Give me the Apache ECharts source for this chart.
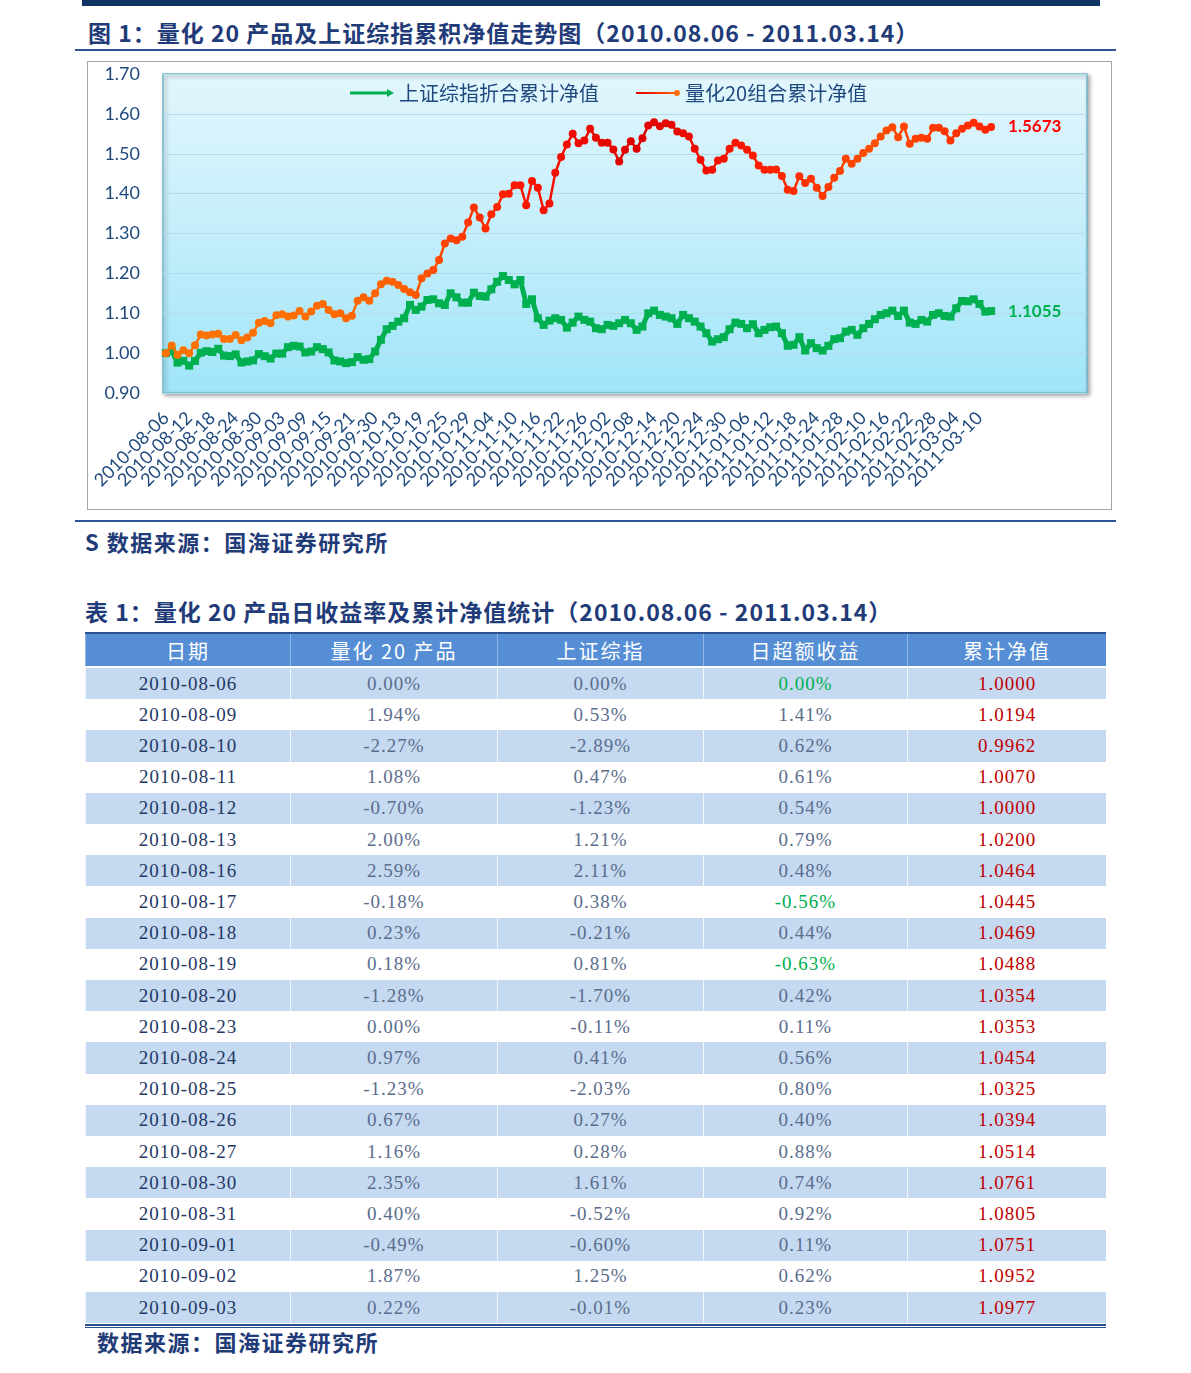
<!DOCTYPE html>
<html><head><meta charset="utf-8">
<script src="https://cdn.jsdelivr.net/npm/echarts@6/dist/echarts.min.js"></script>
<style>
body{margin:0;background:#fff;width:1191px;height:1373px;position:relative;overflow:hidden;font-family:"Noto Sans CJK SC",sans-serif;}
.abs{position:absolute;}
.topbar{left:82px;top:0;width:1018px;height:6px;background:#0f3565;}
.rule{left:75px;width:1041px;height:2px;background:#2f5496;}
.title{color:#1f3b78;font-weight:bold;white-space:nowrap;line-height:1;}
#chart{left:87px;top:61px;width:1025px;height:449px;border:1px solid #a5a5a5;box-sizing:border-box;}
.row{position:absolute;left:85px;width:1021px;display:flex;align-items:center;}
.cell{box-sizing:border-box;text-align:center;font-family:"Liberation Serif",serif;font-size:19px;letter-spacing:1px;color:#5a6d8c;border-left:1px solid rgba(255,255,255,0.75);height:100%;display:flex;align-items:center;justify-content:center;}
.hcell{box-sizing:border-box;text-align:center;font-size:20px;color:#fff;letter-spacing:2px;border-left:1px solid rgba(255,255,255,0.35);height:100%;display:flex;align-items:center;justify-content:center;}
</style></head>
<body>
<div class="abs topbar"></div>
<div class="abs title" id="t1" style="left:88px;top:21px;font-size:23px;letter-spacing:1px;">图 1：量化 20 产品及上证综指累积净值走势图（2010.08.06 - 2011.03.14）</div>
<div class="abs rule" style="top:49px;"></div>
<div class="abs" id="chart"></div>
<div class="abs rule" style="top:520px;"></div>
<div class="abs title" style="left:85px;top:530px;font-size:22px;letter-spacing:1.5px;">S 数据来源：国海证券研究所</div>
<div class="abs title" style="left:85px;top:600px;font-size:23px;letter-spacing:1px;">表 1：量化 20 产品日收益率及累计净值统计（2010.08.06 - 2011.03.14）</div>
<div id="table"></div>
<div class="abs title" style="left:97px;top:1330px;font-size:22px;letter-spacing:1.5px;">数据来源：国海证券研究所</div>
<script>
// ---------- chart data ----------
const dates = [
'2010-08-06','2010-08-09','2010-08-10','2010-08-11','2010-08-12','2010-08-13','2010-08-16','2010-08-17','2010-08-18','2010-08-19','2010-08-20','2010-08-23','2010-08-24','2010-08-25','2010-08-26','2010-08-27','2010-08-30','2010-08-31',
'2010-09-01','2010-09-02','2010-09-03','2010-09-06','2010-09-07','2010-09-08','2010-09-09','2010-09-10','2010-09-13','2010-09-14','2010-09-15','2010-09-16','2010-09-17','2010-09-20','2010-09-21','2010-09-27','2010-09-28','2010-09-29','2010-09-30',
'2010-10-08','2010-10-11','2010-10-12','2010-10-13','2010-10-14','2010-10-15','2010-10-18','2010-10-19','2010-10-20','2010-10-21','2010-10-22','2010-10-25','2010-10-26','2010-10-27','2010-10-28','2010-10-29',
'2010-11-01','2010-11-02','2010-11-03','2010-11-04','2010-11-05','2010-11-08','2010-11-09','2010-11-10','2010-11-11','2010-11-12','2010-11-15','2010-11-16','2010-11-17','2010-11-18','2010-11-19','2010-11-22','2010-11-23','2010-11-24','2010-11-25','2010-11-26','2010-11-29','2010-11-30',
'2010-12-01','2010-12-02','2010-12-03','2010-12-06','2010-12-07','2010-12-08','2010-12-09','2010-12-10','2010-12-13','2010-12-14','2010-12-15','2010-12-16','2010-12-17','2010-12-20','2010-12-21','2010-12-22','2010-12-23','2010-12-24','2010-12-27','2010-12-28','2010-12-29','2010-12-30','2010-12-31',
'2011-01-04','2011-01-05','2011-01-06','2011-01-07','2011-01-10','2011-01-11','2011-01-12','2011-01-13','2011-01-14','2011-01-17','2011-01-18','2011-01-19','2011-01-20','2011-01-21','2011-01-24','2011-01-25','2011-01-26','2011-01-27','2011-01-28','2011-01-31',
'2011-02-01','2011-02-09','2011-02-10','2011-02-11','2011-02-14','2011-02-15','2011-02-16','2011-02-17','2011-02-18','2011-02-21','2011-02-22','2011-02-23','2011-02-24','2011-02-25','2011-02-28',
'2011-03-01','2011-03-02','2011-03-03','2011-03-04','2011-03-07','2011-03-08','2011-03-09','2011-03-10','2011-03-11','2011-03-14'];

const quantNav = [
1.0000,1.0194,0.9962,1.0070,1.0000,1.0200,1.0464,1.0445,1.0469,1.0488,1.0354,1.0353,1.0454,1.0325,1.0394,1.0514,1.0761,1.0805,1.0751,1.0952,1.0977,
1.0916,1.0941,1.1058,1.0916,1.1041,1.1191,1.1233,1.1083,1.0975,1.1000,1.0875,1.0940,1.1316,1.1400,1.1316,1.1500,1.1730,1.1816,1.1790,1.1708,
1.1608,1.1525,1.1458,1.1875,1.2000,1.2083,1.2333,1.2750,1.2875,1.2833,1.2916,1.3275,1.3650,1.3400,1.3125,1.3483,1.3666,1.3983,1.4000,1.4208,
1.4208,1.3708,1.4316,1.4150,1.3583,1.3750,1.4525,1.4916,1.5233,1.5500,1.5266,1.5333,1.5625,1.5400,1.5275,1.5275,1.5108,1.4808,1.5100,1.5316,
1.5125,1.5390,1.5708,1.5790,1.5690,1.5765,1.5725,1.5558,1.5515,1.5433,1.5125,1.4850,1.4583,1.4600,1.4833,1.4875,1.5125,1.5275,1.5208,1.5100,
1.4958,1.4708,1.4600,1.4600,1.4608,1.4440,1.4100,1.4066,1.4433,1.4266,1.4375,1.4150,1.3940,1.4166,1.4400,1.4566,1.4875,1.4750,1.4875,1.5016,1.5125,
1.5266,1.5433,1.5583,1.5666,1.5416,1.5683,1.5250,1.5375,1.5400,1.5375,1.5650,1.5650,1.5566,1.5333,1.5516,1.5625,1.5708,1.5775,1.5683,1.5600,1.5673];

const indexNav = [
1.0000,1.0053,0.9762,0.9808,0.9687,0.9804,1.0011,1.0049,1.0028,1.0109,0.9937,0.9926,0.9967,0.9765,0.9791,0.9818,0.9976,0.9924,0.9865,0.9988,0.9987,
1.0150,1.0183,1.0166,1.0016,1.0040,1.0150,1.0100,1.0016,0.9816,0.9790,0.9750,0.9775,0.9900,0.9833,0.9850,1.0040,1.0333,1.0600,1.0683,1.0790,
1.0875,1.1208,1.1083,1.1166,1.1333,1.1350,1.1250,1.1208,1.1500,1.1400,1.1266,1.1266,1.1516,1.1433,1.1416,1.1600,1.1790,1.1933,1.1833,1.1725,
1.1833,1.1233,1.1350,1.0875,1.0708,1.0816,1.0875,1.0833,1.0640,1.0766,1.0916,1.0833,1.0790,1.0625,1.0600,1.0708,1.0683,1.0750,1.0833,1.0750,
1.0583,1.0666,1.1000,1.1066,1.0958,1.0916,1.0875,1.0733,1.0958,1.0875,1.0790,1.0666,1.0500,1.0290,1.0350,1.0400,1.0600,1.0766,1.0733,1.0625,
1.0725,1.0500,1.0583,1.0650,1.0666,1.0500,1.0183,1.0208,1.0400,1.0066,1.0250,1.0125,1.0066,1.0183,1.0350,1.0375,1.0540,1.0583,1.0458,1.0625,1.0733,
1.0850,1.0958,1.1000,1.1066,1.0933,1.1066,1.0766,1.0733,1.0833,1.0790,1.0958,1.1000,1.0933,1.0916,1.1125,1.1308,1.1300,1.1350,1.1233,1.1040,1.1055];

const yTicks = {min:0.9, max:1.7, step:0.1};

// ---------- table data ----------
const tableDates = ['2010-08-06','2010-08-09','2010-08-10','2010-08-11','2010-08-12','2010-08-13','2010-08-16','2010-08-17','2010-08-18','2010-08-19','2010-08-20','2010-08-23','2010-08-24','2010-08-25','2010-08-26','2010-08-27','2010-08-30','2010-08-31','2010-09-01','2010-09-02','2010-09-03'];
const productRet = [0.00,1.94,-2.27,1.08,-0.70,2.00,2.59,-0.18,0.23,0.18,-1.28,0.00,0.97,-1.23,0.67,1.16,2.35,0.40,-0.49,1.87,0.22];
const indexRet   = [0.00,0.53,-2.89,0.47,-1.23,1.21,2.11,0.38,-0.21,0.81,-1.70,-0.11,0.41,-2.03,0.27,0.28,1.61,-0.52,-0.60,1.25,-0.01];
const excessRet  = [0.00,1.41,0.62,0.61,0.54,0.79,0.48,-0.56,0.44,-0.63,0.42,0.11,0.56,0.80,0.40,0.88,0.74,0.92,0.11,0.62,0.23];
const navValues  = [1.0000,1.0194,0.9962,1.0070,1.0000,1.0200,1.0464,1.0445,1.0469,1.0488,1.0354,1.0353,1.0454,1.0325,1.0394,1.0514,1.0761,1.0805,1.0751,1.0952,1.0977];
const headers = ['日期','量化 20 产品','上证综指','日超额收益','累计净值'];

// ---------- table build ----------
const colW = [205,207,206,204,199];
const tb = document.getElementById('table');
let html = '<div class="abs" style="left:85px;top:632px;width:1021px;height:2px;background:#2c4f8f;"></div>';
html += '<div class="row" style="top:634px;height:32px;background:#558ed5;">' + headers.map((h,i)=>`<div class="hcell" style="width:${colW[i]}px">${h}</div>`).join('') + '</div>';
const rowTop = 668, rowH = 31.2;
tableDates.forEach((d,k)=>{
  const bg = k%2===0 ? '#c5d9f1' : '#ffffff';
  const pct = v => v.toFixed(2)+'%';
  const exColor = excessRet[k] <= 0 ? '#00b050' : '#5a6d8c';
  html += `<div class="row" style="top:${rowTop+k*rowH}px;height:${rowH}px;background:${bg};">`+
    `<div class="cell" style="width:${colW[0]}px;color:#1f3864;">${d}</div>`+
    `<div class="cell" style="width:${colW[1]}px;">${pct(productRet[k])}</div>`+
    `<div class="cell" style="width:${colW[2]}px;">${pct(indexRet[k])}</div>`+
    `<div class="cell" style="width:${colW[3]}px;color:${exColor};">${pct(excessRet[k])}</div>`+
    `<div class="cell" style="width:${colW[4]}px;color:#c00000;">${navValues[k].toFixed(4)}</div>`+
    `</div>`;
});
html += '<div class="abs" style="left:85px;top:1324px;width:1021px;height:1px;border-top:2px solid #2c4f8f;border-bottom:1px solid #2c4f8f;"></div>';
tb.innerHTML = html;

// ---------- chart ----------
const chart = echarts.init(document.getElementById('chart'));
const plotBg = new echarts.graphic.LinearGradient(0,0,0,1,[{offset:0,color:'#e2f6fc'},{offset:0.5,color:'#c4eefb'},{offset:1,color:'#a0e5f9'}]);
const redIconGrad = new echarts.graphic.LinearGradient(0,0,1,0,[{offset:0,color:'#e00000'},{offset:0.75,color:'#ff4a00'},{offset:1,color:'#ff7a10'}]);
const greenIcon = 'path://M0,2.5 L37,2.5 L37,0 L44,4 L37,8 L37,5.5 L0,5.5 Z';
const redIcon = 'path://M0,3 L38,3 L38,5 L0,5 Z M44,4 A3,3 0 1,1 38,4 A3,3 0 1,1 44,4 Z';
// two interleaved bottom axes (labels every 4th trading day, alternating) so no label is dropped as overlapping
const makeX = (phase) => ({type:'category',data:dates,boundaryGap:true,max:158,position:'bottom',
    axisLine:{show:false},axisTick:{show:false},splitLine:{show:false},
    axisLabel:{interval:(idx)=>idx%8===phase,rotate:45,fontSize:18,color:'#1f497d',fontFamily:'Lato',margin:22,
      showMinLabel:true,showMaxLabel:false,hideOverlap:false,formatter:v=>v==null?'':v}});
chart.setOption({
  animation:false,
  grid:{left:75,top:12,right:24,bottom:116,show:true,backgroundColor:plotBg,borderColor:'#74b6cc',borderWidth:1.5,
        shadowColor:'rgba(0,0,0,0.35)',shadowBlur:4,shadowOffsetX:2,shadowOffsetY:2},
  legend:{left:262,top:21,padding:0,itemWidth:44,itemHeight:8,itemGap:37,
    textStyle:{fontSize:20,color:'#1f497d',fontFamily:'Noto Sans CJK SC'},
    data:[{name:'上证综指折合累计净值',icon:greenIcon,itemStyle:{color:'#00b050'}},
          {name:'量化20组合累计净值',icon:redIcon,itemStyle:{color:redIconGrad}}]},
  xAxis:[makeX(0), makeX(4)],
  yAxis:{type:'value',min:yTicks.min,max:yTicks.max,interval:yTicks.step,
    axisLine:{show:false},axisTick:{show:false},
    axisLabel:{formatter:v=>v.toFixed(2),fontSize:18,color:'#1f497d',fontFamily:'Lato',margin:23},
    splitLine:{lineStyle:{color:'#b3dbe9',width:1}}},
  visualMap:{type:'continuous',show:false,seriesIndex:1,dimension:0,min:0,max:142,
    inRange:{color:['#ff7200','#ff7000','#ff6000','#ff1500','#dc0000','#ff1a00','#ff5000','#ff2400']}},
  series:[
    {name:'上证综指折合累计净值',type:'line',xAxisIndex:0,data:indexNav,symbol:'rect',symbolSize:8,showAllSymbol:true,z:2,
      lineStyle:{width:5,color:'#00b050'},itemStyle:{color:'#00b050'},
      endLabel:{show:true,formatter:p=>Number(p.value).toFixed(4),color:'#00b050',fontWeight:'bold',fontSize:17,fontFamily:'Lato',distance:17}},
    {name:'量化20组合累计净值',type:'line',xAxisIndex:0,data:quantNav,symbol:'circle',symbolSize:8,showAllSymbol:true,z:3,
      lineStyle:{width:2.5},
      endLabel:{show:true,formatter:p=>Number(p.value).toFixed(4),color:'#ff0000',fontWeight:'bold',fontSize:17,fontFamily:'Lato',distance:17}}
  ]
});
</script>
</body></html>
